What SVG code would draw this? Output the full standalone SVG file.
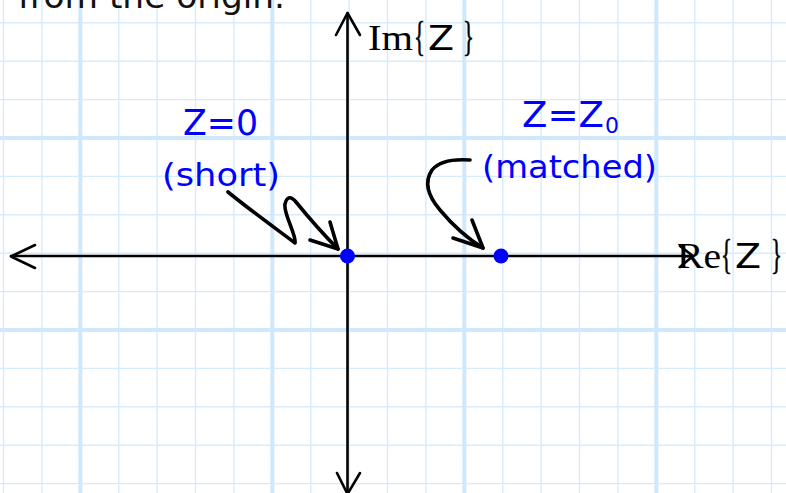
<svg xmlns="http://www.w3.org/2000/svg" width="786" height="493" viewBox="0 0 786 493">
  <defs>
    <style>
      .g { stroke: #d6ecfc; stroke-width: 1.4; }
      .gt { stroke: #cfe8fb; stroke-width: 4; }
      .axis { stroke: #000; stroke-width: 2.6; fill: none; stroke-linecap: round; stroke-linejoin: round; }
      .hand { stroke: #000; stroke-width: 3.6; fill: none; stroke-linecap: round; stroke-linejoin: round; }
      .dot { fill: #0000ff; }
      .lbl { font-family: "DejaVu Sans", "Noto Sans", sans-serif; fill: #0000ff; }
      .ax { font-family: "Liberation Serif", "DejaVu Serif", serif; font-size: 35px; fill: #000; }
      .br { font-size: 42px; stroke: #000; stroke-width: 0.6; }
      .axz { font-family: "DejaVu Sans", sans-serif; font-size: 33px; }
    </style>
  </defs>
  <rect x="0" y="0" width="786" height="493" fill="#ffffff"/>
  <g id="grid">
    <g class="g">
      <line x1="3.5" y1="0" x2="3.5" y2="493"/>
      <line x1="41.9" y1="0" x2="41.9" y2="493"/>
      <line x1="118.7" y1="0" x2="118.7" y2="493"/>
      <line x1="157.1" y1="0" x2="157.1" y2="493"/>
      <line x1="195.5" y1="0" x2="195.5" y2="493"/>
      <line x1="233.9" y1="0" x2="233.9" y2="493"/>
      <line x1="310.7" y1="0" x2="310.7" y2="493"/>
      <line x1="349.1" y1="0" x2="349.1" y2="493"/>
      <line x1="387.5" y1="0" x2="387.5" y2="493"/>
      <line x1="425.9" y1="0" x2="425.9" y2="493"/>
      <line x1="502.7" y1="0" x2="502.7" y2="493"/>
      <line x1="541.1" y1="0" x2="541.1" y2="493"/>
      <line x1="579.5" y1="0" x2="579.5" y2="493"/>
      <line x1="617.9" y1="0" x2="617.9" y2="493"/>
      <line x1="694.7" y1="0" x2="694.7" y2="493"/>
      <line x1="733.1" y1="0" x2="733.1" y2="493"/>
      <line x1="771.5" y1="0" x2="771.5" y2="493"/>
      <line x1="0" y1="22.8" x2="786" y2="22.8"/>
      <line x1="0" y1="61.2" x2="786" y2="61.2"/>
      <line x1="0" y1="99.6" x2="786" y2="99.6"/>
      <line x1="0" y1="176.4" x2="786" y2="176.4"/>
      <line x1="0" y1="214.8" x2="786" y2="214.8"/>
      <line x1="0" y1="253.2" x2="786" y2="253.2"/>
      <line x1="0" y1="291.6" x2="786" y2="291.6"/>
      <line x1="0" y1="368.4" x2="786" y2="368.4"/>
      <line x1="0" y1="406.8" x2="786" y2="406.8"/>
      <line x1="0" y1="445.2" x2="786" y2="445.2"/>
      <line x1="0" y1="483.6" x2="786" y2="483.6"/>
    </g>
    <g class="gt">
      <line x1="80.3" y1="0" x2="80.3" y2="493"/>
      <line x1="272.3" y1="0" x2="272.3" y2="493"/>
      <line x1="464.3" y1="0" x2="464.3" y2="493"/>
      <line x1="656.3" y1="0" x2="656.3" y2="493"/>
      <line x1="0" y1="138" x2="786" y2="138"/>
      <line x1="0" y1="330" x2="786" y2="330"/>
    </g>
  </g>
  <text id="caption" x="18" y="8" font-family="DejaVu Sans, sans-serif" font-size="34" fill="#111" textLength="267" lengthAdjust="spacingAndGlyphs">from the origin.</text>
  <g id="connectors">
    <g id="re-axis">
      <line class="axis" x1="11" y1="256" x2="692" y2="256"/>
      <polyline class="axis" points="35,245 11,256.5 35,268"/>
      <polyline class="axis" points="680,246 693,256 680,267"/>
    </g>
    <g id="im-axis">
      <line class="axis" x1="347.5" y1="13" x2="347.5" y2="493"/>
      <polyline class="axis" points="336,35 347.5,13 360,35"/>
      <polyline class="axis" points="337,473 347.5,494 360,473"/>
    </g>
    <g id="short-arrow">
      <path class="hand" d="M228,192 C250,210 275,228 295,243 C297,236 283,213 285,204 C287,196 291,196 296,202 C309,218 325,236 338,249"/>
      <polyline class="hand" points="330,222 338,249 310,240"/>
    </g>
    <g id="matched-arrow">
      <path class="hand" d="M470,160 C455,159 440,160 432,170 C424,182 428,196 440,210 C455,228 470,240 483,248"/>
      <polyline class="hand" points="472,220 483,248 453,238"/>
    </g>
  </g>
  <g id="im-label">
    <text class="ax" y="50"><tspan x="368" textLength="45" lengthAdjust="spacingAndGlyphs">Im</tspan><tspan class="br" x="414" textLength="11" lengthAdjust="spacingAndGlyphs">{</tspan><tspan class="axz" x="428" textLength="26" lengthAdjust="spacingAndGlyphs">Z</tspan><tspan class="br" x="463" textLength="11" lengthAdjust="spacingAndGlyphs">}</tspan></text>
  </g>
  <g id="re-label">
    <text class="ax" y="268"><tspan x="677" textLength="44" lengthAdjust="spacingAndGlyphs">Re</tspan><tspan class="br" x="721" textLength="11" lengthAdjust="spacingAndGlyphs">{</tspan><tspan class="axz" x="735" textLength="26" lengthAdjust="spacingAndGlyphs">Z</tspan><tspan class="br" x="771" textLength="11" lengthAdjust="spacingAndGlyphs">}</tspan></text>
  </g>
  <g id="short-node">
    <circle class="dot" cx="347.5" cy="256" r="7.5"/>
    <text class="lbl" x="183" y="135" font-size="36" textLength="75" lengthAdjust="spacingAndGlyphs">Z=0</text>
    <text class="lbl" x="162" y="186" font-size="32" textLength="118" lengthAdjust="spacingAndGlyphs">(short)</text>
  </g>
  <g id="matched-node">
    <circle class="dot" cx="501" cy="256" r="7.5"/>
    <text class="lbl" x="522" y="127" font-size="36"><tspan textLength="82" lengthAdjust="spacingAndGlyphs">Z=Z</tspan><tspan x="605" y="133" font-size="22">0</tspan></text>
    <text class="lbl" x="482" y="178" font-size="32" textLength="175" lengthAdjust="spacingAndGlyphs">(matched)</text>
  </g>
</svg>
